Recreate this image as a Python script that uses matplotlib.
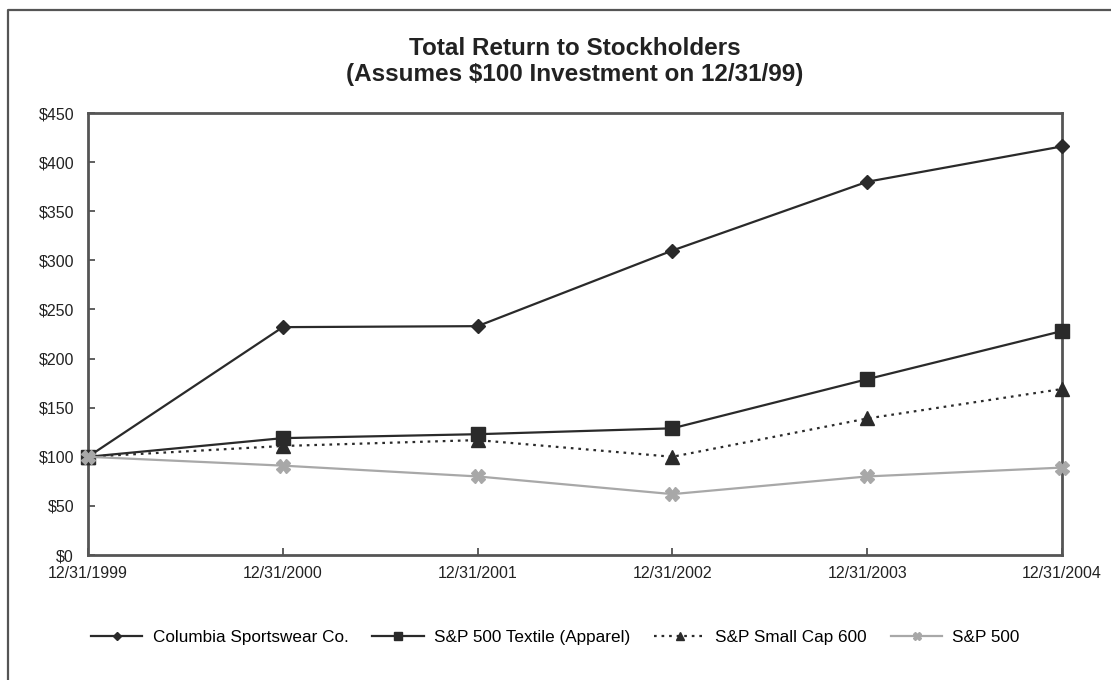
import matplotlib
matplotlib.use("Agg")
import matplotlib.pyplot as plt
from matplotlib.lines import Line2D

plt.rcParams['font.family'] = ['Liberation Sans', 'DejaVu Sans']

# Data
dates = ["12/31/1999", "12/31/2000", "12/31/2001", "12/31/2002", "12/31/2003", "12/31/2004"]
columbia = [100, 232, 233, 310, 380, 416]
textile = [100, 119, 123, 129, 179, 228]
small_cap = [100, 111, 117, 100, 139, 169]
sp500 = [100, 91, 80, 62, 80, 89]
yticks = [0, 50, 100, 150, 200, 250, 300, 350, 400, 450]

fig = plt.figure(figsize=(11.11, 6.8), dpi=100)
ax = fig.add_axes([0.0792, 0.1838, 0.8767, 0.65])

x = list(range(len(dates)))
dark = "#2a2a2a"
gray = "#a8a8a8"

ax.plot(x, columbia, color=dark, lw=1.6, marker="D", ms=7.5, label="Columbia Sportswear Co.", clip_on=False, zorder=5)
ax.plot(x, textile, color=dark, lw=1.6, marker="s", ms=10, label="S&P 500 Textile (Apparel)", clip_on=False, zorder=4)
ax.plot(x, small_cap, color=dark, lw=1.6, ls=(0, (1.2, 2.2)), marker="^", ms=10,
        label="S&P Small Cap 600", clip_on=False, zorder=3)
ax.plot(x, sp500, color=gray, lw=1.6, marker="X", ms=10, label="S&P 500", clip_on=False, zorder=6)

ax.set_xlim(0, 5)
ax.set_ylim(0, 450)
ax.set_xticks(x)
ax.set_xticklabels(dates)
ax.set_yticks(yticks)
ax.set_yticklabels([f"${v}" for v in yticks])
ax.tick_params(direction="in", length=5, width=1.2, color="#444", labelsize=11.5,
               labelcolor="#222")
ax.tick_params(axis="x", pad=8)
ax.tick_params(axis="y", pad=10)
for s in ax.spines.values():
    s.set_color("#555")
    s.set_linewidth(2)

fig.text(0.5175, 0.909, "Total Return to Stockholders\n(Assumes $100 Investment on 12/31/99)",
         ha="center", va="center", fontsize=17.5, fontweight="bold", color="#222",
         linespacing=1.18)

fig.legend(loc="center", bbox_to_anchor=(0.50, 0.063), ncol=4, frameon=False,
           fontsize=12.3, handlelength=3.0, columnspacing=1.4, handletextpad=0.6,
           markerscale=0.6)

# outer frame (top and left only)
fig.add_artist(Line2D([0.0072, 0.0072, 1.0], [0.0, 0.985, 0.985], transform=fig.transFigure,
                      color="#555", lw=1.6))

fig.savefig("out.png", dpi=100)
